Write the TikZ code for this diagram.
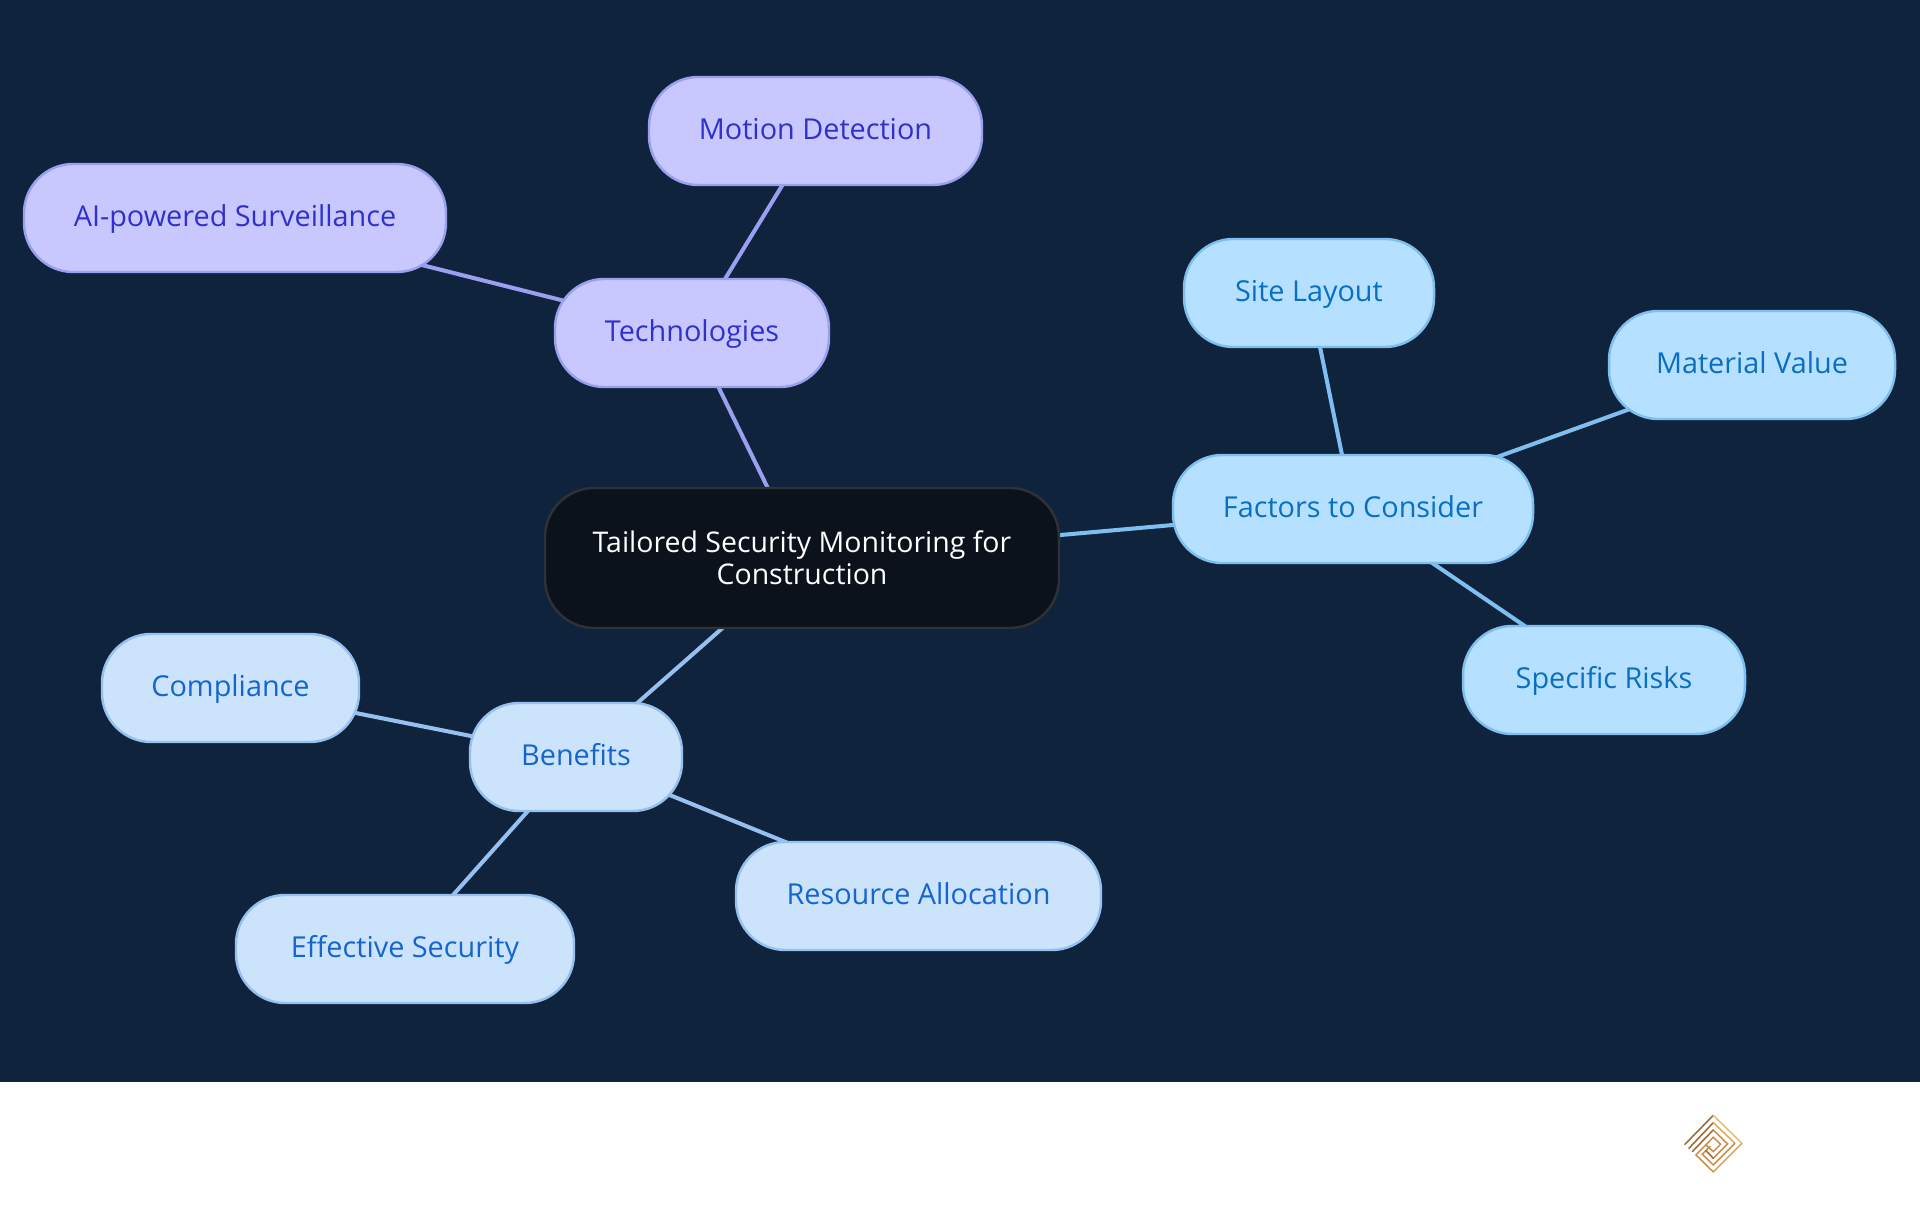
\documentclass[tikz,border=0pt]{standalone}
\usepackage{xcolor}
\usepackage{fontspec}
\setmainfont{Open Sans}
\usepackage{tikz}
\usetikzlibrary{positioning,backgrounds}
\definecolor{pagebg}{HTML}{0F233C}
\definecolor{rootfill}{HTML}{0B121C}
\definecolor{rootline}{HTML}{2E3238}
\definecolor{techfill}{HTML}{C8C8FF}
\definecolor{techline}{HTML}{9A9FF0}
\definecolor{techtext}{HTML}{3030CC}
\definecolor{factfill}{HTML}{B5E0FF}
\definecolor{factline}{HTML}{7FBFF0}
\definecolor{facttext}{HTML}{0A6FC2}
\definecolor{beneftfill}{HTML}{CCE3FC}
\definecolor{beneftline}{HTML}{96C0F0}
\definecolor{benefttext}{HTML}{1565CF}
\definecolor{logolight}{HTML}{E8BE78}
\definecolor{logomid}{HTML}{C8924E}
\definecolor{logodark}{HTML}{9E6C36}
\tikzset{
  pill/.style    ={rounded corners=14pt,line width=0.7pt,outer sep=0pt,inner sep=0pt,
                   minimum height=1.08cm,align=center,font=\fontsize{8.2pt}{9.1pt}\selectfont},
  leaf/.style    ={pill,text height=6.5pt,text depth=1.6pt},
  rootbox/.style ={pill,draw=rootline,fill=rootfill,text=white,minimum height=1.40cm,
                   font=\fontsize{8.1pt}{9.1pt}\selectfont},
  techbox/.style ={leaf,draw=techline,fill=techfill,text=techtext},
  factbox/.style ={leaf,draw=factline,fill=factfill,text=facttext},
  beneftbox/.style={leaf,draw=beneftline,fill=beneftfill,text=benefttext},
  techlink/.style={line width=1.15pt,draw=techline},
  factlink/.style={line width=1.15pt,draw=factline},
  beneftlink/.style={line width=1.15pt,draw=beneftline},
  logoline/.style={line width=0.45pt,line cap=round,line join=miter}
}
\begin{document}
\begin{tikzpicture}
  \useasboundingbox (0,0) rectangle (19.2,12.15);
  \node[rootbox,minimum width=5.14cm] (root) at (8.02,6.57) {Tailored Security Monitoring for\\Construction};
  \node[techbox,above=1.01cm of root,xshift=-1.10cm,minimum width=2.74cm] (tech) {Technologies};
  \node[techbox,above=0.94cm of tech,xshift=1.235cm,minimum width=3.33cm] (motion) {Motion Detection};
  \node[techbox,left=1.09cm of tech,yshift=1.15cm,minimum width=4.22cm] (surveil) {AI-powered Surveillance};
  \node[factbox,right=1.14cm of root,yshift=0.49cm,minimum width=3.60cm] (factors) {Factors to Consider};
  \node[factbox,above=1.08cm of factors,xshift=-0.44cm,minimum width=2.50cm] (layout) {Site Layout};
  \node[factbox,right=0.76cm of factors,yshift=1.44cm,minimum width=2.86cm] (material) {Material Value};
  \node[factbox,below=0.63cm of factors,xshift=2.51cm,minimum width=2.82cm] (risks) {Specific Risks};
  \node[beneftbox,below=0.75cm of root,xshift=-2.26cm,minimum width=2.12cm] (benefits) {Benefits};
  \node[beneftbox,left=1.11cm of benefits,yshift=0.69cm,minimum width=2.57cm] (comply) {Compliance};
  \node[beneftbox,below=0.84cm of benefits,xshift=-1.71cm,minimum width=3.38cm] (effect) {Effective Security};
  \node[beneftbox,right=0.54cm of benefits,yshift=-1.39cm,minimum width=3.65cm] (resource) {Resource Allocation};
  \begin{scope}[on background layer]
    \fill[pagebg] (0,1.33) rectangle (19.2,12.15);
    \draw[techlink] (root.center) -- (tech.center);
    \draw[techlink] (tech.center) -- (motion.center);
    \draw[techlink] (tech.center) -- (surveil.center);
    \draw[factlink] (root.center) -- (factors.center);
    \draw[factlink] (factors.center) -- (layout.center);
    \draw[factlink] (factors.center) -- (material.center);
    \draw[factlink] (factors.center) -- (risks.center);
    \draw[beneftlink] (root.center) -- (benefits.center);
    \draw[beneftlink] (benefits.center) -- (comply.center);
    \draw[beneftlink] (benefits.center) -- (effect.center);
    \draw[beneftlink] (benefits.center) -- (resource.center);
  \end{scope}
  % logo
  \begin{scope}[shift={(16.8,1.05)},x=0.003333cm,y=-0.003333cm,logoline]
    \draw[logodark] (15,103) -- (100,16);
    \draw[logolight] (100,16) -- (186,100);
    \draw[logolight!50!logomid] (186,100) -- (100,186);
    \draw[logomid] (100,186) -- (48,135) -- (100,82);
    \draw[logomid] (100,82) -- (122,103) -- (100,125) -- (78,105);
    \draw[logodark] (27,115) -- (100,38);
    \draw[logolight!60!logomid] (100,38) -- (165,100);
    \draw[logomid] (165,100) -- (100,165) -- (67,133) -- (90,110);
    \draw[logodark] (37,125) -- (100,60);
    \draw[logomid] (100,60) -- (143,102) -- (100,145);
    \draw[logodark] (100,145) -- (78,122);
  \end{scope}
\end{tikzpicture}
\end{document}
